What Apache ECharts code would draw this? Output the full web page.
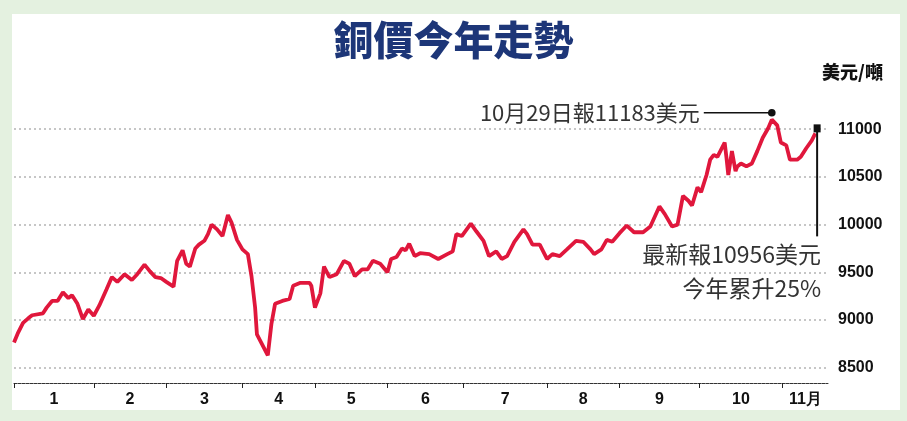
<!DOCTYPE html>
<html>
<head>
<meta charset="utf-8">
<script src="https://cdn.jsdelivr.net/npm/echarts@6.0.0/dist/echarts.min.js"></script>
<style>
html,body{margin:0;padding:0;}
#wrap{position:relative;width:907px;height:421px;background:#e4f1e0;overflow:hidden;}
#panel{position:absolute;left:12px;top:14px;width:888px;height:396px;background:#ffffff;}
#chart{position:absolute;left:0;top:0;width:907px;height:421px;}
</style>
</head>
<body>
<div id="wrap"><div id="panel"></div><div id="chart"></div></div>
<script>
// trading-day index (0 = first trading day of the year) and copper price (USD/ton)
const days = [-1,0,1.5,3,4,7,8,9.5,11,12.5,14,15,16.5,18,19.5,21,22.5,24.5,26,27.5,29.5,31.5,33,35,36.5,38,39.5,41,43,44,45.5,46.5,47.5,49,50,51.5,52.5,53.5,55,56.5,58,59,60.5,62,63.5,64.5,65.5,66,67.5,69,70,71,73,75,76,78,80.5,81,82,83.5,84.5,86,88,90,91.5,93,95,96.5,98,100,102,103,104.5,106,107,108,109.5,111,113.5,116,118.5,120,121,122.5,125,126.5,128.5,130,132,133.5,135,137,139.5,140.5,142,144,146,147.5,149.5,151.5,154,156,158,159,161,162.5,164,166,168,170,172.5,174.5,177,178.5,180.5,182,183.5,185,186,187.5,188.5,190,191,192,193,195,195.5,196,197,198,198.5,199.5,201,202.5,204,205.5,207,208,209.5,210.5,212,213,215,216,217.5,219,220];
const prices = [8765,8857,8970,9020,9050,9070,9130,9200,9200,9290,9230,9260,9170,9010,9110,9045,9150,9320,9450,9400,9480,9420,9480,9580,9510,9450,9440,9400,9350,9620,9730,9590,9560,9750,9790,9830,9900,10000,9950,9880,10100,10020,9840,9740,9690,9460,9130,8850,8740,8630,8960,9170,9200,9220,9360,9390,9390,9360,9130,9280,9560,9450,9480,9620,9590,9460,9530,9530,9620,9590,9500,9640,9660,9750,9730,9800,9670,9700,9690,9640,9690,9720,9900,9880,10010,9930,9830,9670,9720,9640,9670,9820,9950,9900,9790,9790,9640,9690,9670,9740,9830,9820,9740,9690,9740,9840,9820,9910,9990,9920,9920,9980,10190,10110,9980,10000,10300,10250,10200,10390,10340,10520,10680,10730,10710,10860,10700,10520,10770,10560,10610,10640,10610,10640,10770,10910,11010,11100,11040,10860,10830,10680,10680,10710,10800,10880,10956];
// month boundaries in trading-day index, and month labels
const monthStarts = [-1,21,41,62,82,102,123,146,166,188,211];
const axisEnd = 223.5;
const monthLabels = ['1','2','3','4','5','6','7','8','9','10','11月'];
const yTicks = [8500,9000,9500,10000,10500,11000];
const yMin = 8340, yMax = 11400;
const title = '銅價今年走勢';
const unit = '美元/噸';
const peak = {day: 208, value: 11183, text: '10月29日報11183美元'};
const latest = {day: 220.5, value: 10956, lines: ['最新報10956美元', '今年累升25%']};

const bounds = monthStarts.concat([axisEnd]);
const labelPos = monthLabels.map((m, i) => (bounds[i] + bounds[i + 1]) / 2);

const chart = echarts.init(document.getElementById('chart'));
const numFont = '"Liberation Sans", Arial, sans-serif';
const cjkFont = '"Noto Sans CJK TC", "Noto Sans CJK SC", sans-serif';

chart.setOption({
  animation: false,
  title: {
    text: title, left: 'center', top: 15,
    textStyle: {fontFamily: cjkFont, fontSize: 40, fontWeight: 900, color: '#1d3678'}
  },
  grid: {left: 14, right: 79, top: 91, bottom: 38},
  xAxis: {
    type: 'value', min: -1, max: axisEnd,
    axisLine: {show: true, lineStyle: {color: '#333', type: [3, 1], width: 1}},
    axisTick: {show: true, length: 5, customValues: monthStarts, lineStyle: {color: '#222', width: 1}},
    axisLabel: {
      customValues: labelPos, margin: 9,
      fontFamily: numFont, fontSize: 16, fontWeight: 'bold', color: '#111',
      formatter: function (v) {
        for (let i = 0; i < labelPos.length; i++) if (Math.abs(labelPos[i] - v) < 0.01) return monthLabels[i];
        return '';
      }
    },
    splitLine: {show: false}
  },
  yAxis: {
    type: 'value', position: 'right', min: yMin, max: yMax,
    axisLine: {show: false},
    axisTick: {show: false, customValues: yTicks},
    axisLabel: {
      customValues: yTicks, margin: 10, align: 'left',
      fontFamily: numFont, fontSize: 16, fontWeight: 'bold', color: '#111',
      formatter: function (v) { return String(v); }
    },
    splitLine: {show: true, lineStyle: {color: '#b4b4b4', type: [2, 3], width: 1.5}}
  },
  series: [{
    type: 'line',
    data: days.map((d, i) => [d, prices[i]]),
    showSymbol: false,
    lineStyle: {color: '#e0173c', width: 3.8},
    z: 5
  }]
});

function drawAnnotations() {
  const pk = chart.convertToPixel({gridIndex: 0}, [peak.day, peak.value]);
  const lt = chart.convertToPixel({gridIndex: 0}, [latest.day, latest.value]);
  const grid = chart.getModel().getComponent('grid', 0).coordinateSystem.getRect();
  const g = [];
  g.push({type: 'text', left: grid.x + grid.width - 6, top: 63,
    style: {text: unit, font: '900 18px ' + cjkFont, fill: '#111'}});
  // peak marker
  g.push({type: 'line', shape: {x1: pk[0] - 68, y1: pk[1] + 1, x2: pk[0], y2: pk[1] + 1}, style: {stroke: '#111', lineWidth: 1.5}, z: 10});
  g.push({type: 'circle', shape: {cx: pk[0], cy: pk[1] + 1, r: 3.8}, style: {fill: '#111'}, z: 10});
  g.push({type: 'text', x: pk[0] - 72, y: pk[1] + 1,
    style: {text: peak.text, font: '22px ' + cjkFont, fill: '#333', align: 'right', verticalAlign: 'middle'}, z: 10});
  // latest marker
  const mx = lt[0], my = lt[1] - 5;
  g.push({type: 'line', shape: {x1: mx, y1: my, x2: mx, y2: my + 108}, style: {stroke: '#111', lineWidth: 2}, z: 10});
  g.push({type: 'rect', shape: {x: mx - 3.5, y: my - 4, width: 7, height: 8}, style: {fill: '#111'}, z: 10});
  g.push({type: 'text', x: mx + 4, y: my + 126,
    style: {text: latest.lines[0], font: '23px ' + cjkFont, fill: '#333', align: 'right', verticalAlign: 'middle'}, z: 10});
  g.push({type: 'text', x: mx + 4, y: my + 160,
    style: {text: latest.lines[1], font: '23px ' + cjkFont, fill: '#333', align: 'right', verticalAlign: 'middle'}, z: 10});
  chart.setOption({graphic: g});
}
drawAnnotations();
</script>
</body>
</html>
